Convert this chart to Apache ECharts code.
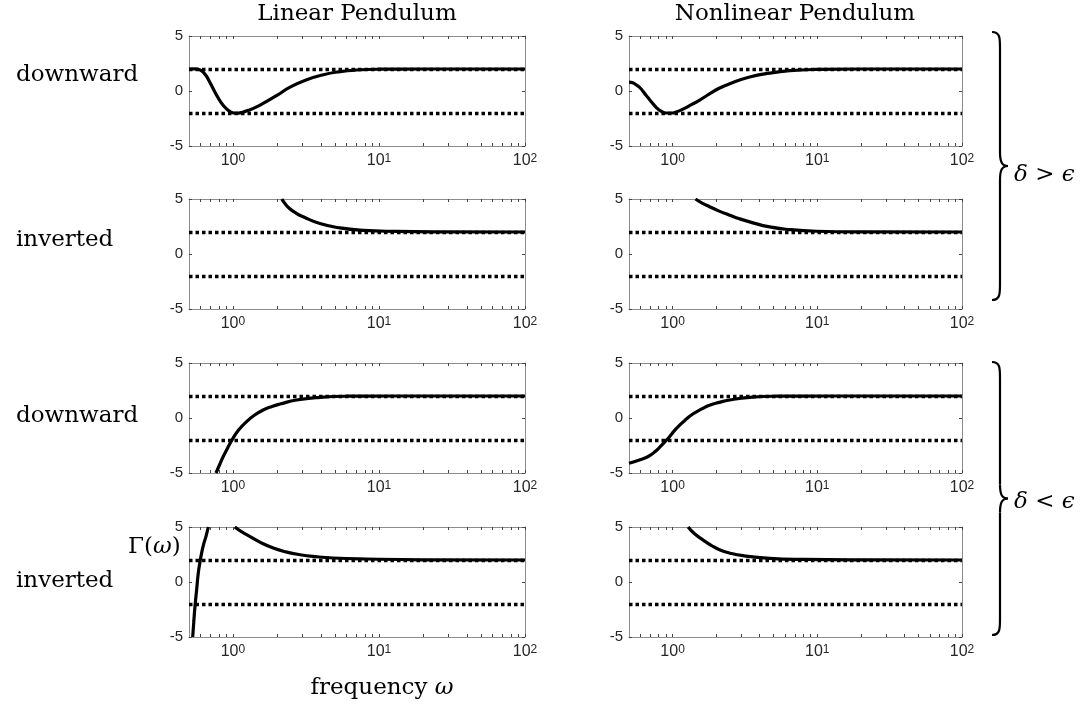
<!DOCTYPE html>
<html>
<head>
<meta charset="utf-8">
<script src="https://cdn.jsdelivr.net/npm/echarts@6/dist/echarts.min.js"></script>
<style>
  html, body { margin: 0; padding: 0; background: #fff; }
  #chart { width: 1084px; height: 708px; }
</style>
</head>
<body>
<div id="chart"></div>
<script>
// tick positions and labels
const omegaTicks = [0.6, 0.7, 0.8, 0.9, 1, 2, 3, 4, 5, 6, 7, 8, 9, 10, 20, 30, 40, 50, 60, 70, 80, 90, 100];
const decadeLabels = [1, 10, 100];
const gammaTicks = [-5, 0, 5];
const bandLevels = [2, -2];

// linear pendulum, downward
const linDownW = [0.5, 0.55, 0.6, 0.65, 0.7, 0.76, 0.83, 0.9, 0.97, 1.05, 1.15, 1.3, 1.5, 1.75, 2.0, 2.46, 3.2, 4.16, 5.4, 7.0, 10, 20, 100];
const linDownG = [2.0, 2.02, 1.9, 1.45, 0.7, -0.2, -1.05, -1.6, -1.92, -2.02, -1.95, -1.72, -1.35, -0.85, -0.4, 0.35, 1.02, 1.48, 1.76, 1.91, 1.98, 2.0, 2.0];
// nonlinear pendulum, downward
const nlDownW = [0.5, 0.53, 0.56, 0.6, 0.658, 0.71, 0.77, 0.83, 0.905, 0.98, 1.06, 1.18, 1.31, 1.55, 1.8, 2.1, 2.48, 3.41, 4.69, 6.45, 9.9, 20, 100];
const nlDownG = [0.81, 0.75, 0.57, 0.25, -0.41, -0.95, -1.48, -1.82, -2.0, -2.0, -1.9, -1.65, -1.33, -0.8, -0.26, 0.25, 0.66, 1.27, 1.63, 1.85, 1.96, 2.0, 2.0];
// linear, inverted (delta > eps)
const linInvW = [2.16, 2.25, 2.44, 2.7, 3.03, 3.94, 5.4, 7.8, 13.2, 25, 100];
const linInvG = [5.0, 4.65, 4.14, 3.72, 3.38, 2.77, 2.37, 2.15, 2.05, 2.01, 2.0];
// nonlinear, inverted (delta > eps)
const nlInvW = [1.44, 1.6, 1.8, 2.1, 2.48, 2.9, 3.41, 4.69, 6.45, 9.9, 20, 100];
const nlInvG = [5.0, 4.63, 4.3, 3.9, 3.53, 3.2, 2.92, 2.46, 2.22, 2.07, 2.01, 2.0];
// linear, downward (delta < eps)
const linDown2W = [0.765, 0.81, 0.858, 0.93, 1.0, 1.1, 1.24, 1.4, 1.61, 1.85, 2.1, 2.73, 3.94, 6.0, 12, 100];
const linDown2G = [-5.0, -4.25, -3.5, -2.6, -1.85, -1.05, -0.33, 0.25, 0.73, 1.05, 1.27, 1.64, 1.88, 1.98, 2.0, 2.0];
// nonlinear, downward (delta < eps)
const nlDown2W = [0.5, 0.59, 0.65, 0.69, 0.75, 0.813, 0.88, 0.953, 1.03, 1.12, 1.24, 1.38, 1.58, 1.8, 2.1, 2.48, 3.41, 5.2, 12, 100];
const nlDown2G = [-4.12, -3.82, -3.62, -3.45, -3.1, -2.67, -2.2, -1.7, -1.15, -0.64, -0.12, 0.36, 0.8, 1.15, 1.42, 1.64, 1.88, 1.98, 2.0, 2.0];
// linear, inverted (delta < eps): two branches
const linInv2aW = [0.53, 0.54, 0.55, 0.565, 0.579, 0.595, 0.61, 0.63, 0.653, 0.678];
const linInv2aG = [-5, -3.5, -2.18, -0.6, 0.83, 1.85, 2.63, 3.45, 4.13, 5];
const linInv2bW = [1.03, 1.15, 1.31, 1.55, 1.89, 2.3, 2.88, 3.7, 4.86, 8.2, 20, 100];
const linInv2bG = [5, 4.55, 4.13, 3.58, 3.08, 2.74, 2.48, 2.3, 2.18, 2.09, 2.02, 2.0];
// nonlinear, inverted (delta < eps)
const nlInv2W = [1.28, 1.42, 1.62, 1.85, 2.11, 2.5, 3.07, 4.69, 8.0, 20, 100];
const nlInv2G = [5, 4.38, 3.83, 3.33, 2.93, 2.62, 2.39, 2.15, 2.05, 2.01, 2.0];

const zip = (w, g) => w.map((v, i) => [v, g[i]]);

// row, col, curves
const panels = [
    { row: 0, col: 0, curves: [zip(linDownW, linDownG)] },
    { row: 0, col: 1, curves: [zip(nlDownW, nlDownG)] },
    { row: 1, col: 0, curves: [zip(linInvW, linInvG)] },
    { row: 1, col: 1, curves: [zip(nlInvW, nlInvG)] },
    { row: 2, col: 0, curves: [zip(linDown2W, linDown2G)] },
    { row: 2, col: 1, curves: [zip(nlDown2W, nlDown2G)] },
    { row: 3, col: 0, curves: [zip(linInv2aW, linInv2aG), zip(linInv2bW, linInv2bG)] },
    { row: 3, col: 1, curves: [zip(nlInv2W, nlInv2G)] }
];

const colLeft = [189, 629];
const colWidth = [336, 333];
const rowTop = [36, 199, 363, 527];
const plotH = 110;

const tickColor = '#262626';
const boxColor = '#8c8c8c';
const serif = 'DejaVu Serif';

let grid = [], xAxis = [], yAxis = [], series = [];

panels.forEach((p, i) => {
    grid.push({ left: colLeft[p.col], top: rowTop[p.row], width: colWidth[p.col], height: plotH });
    const xBase = {
        type: 'log', logBase: 10, gridIndex: i, min: 0.5, max: 100,
        axisLine: { show: true, onZero: false, lineStyle: { color: boxColor, width: 1 } },
        axisTick: { show: true, inside: true, length: 3, customValues: omegaTicks, lineStyle: { color: '#444' } },
        splitLine: { show: false }
    };
    xAxis.push(Object.assign({}, xBase, {
        position: 'bottom',
        axisLabel: {
            customValues: decadeLabels,
            margin: 7,
            formatter: v => '{b|10}{s|' + Math.round(Math.log10(v)) + '}',
            rich: {
                b: { fontSize: 16, fontFamily: 'Liberation Sans', color: tickColor, verticalAlign: 'bottom', lineHeight: 16 },
                s: { fontSize: 12, fontFamily: 'Liberation Sans', color: tickColor, verticalAlign: 'top', lineHeight: 12, padding: [0, 0, 10, 0] }
            }
        }
    }));
    xAxis.push(Object.assign({}, xBase, { position: 'top', axisLabel: { show: false } }));
    const yBase = {
        type: 'value', gridIndex: i, min: -5, max: 5, interval: 5,
        axisLine: { show: true, onZero: false, lineStyle: { color: boxColor, width: 1 } },
        axisTick: { show: true, inside: true, length: 3, lineStyle: { color: '#444' } },
        splitLine: { show: false }
    };
    yAxis.push(Object.assign({}, yBase, {
        position: 'left',
        axisLabel: { fontSize: 15, fontFamily: 'Liberation Sans', color: tickColor, margin: 6 }
    }));
    yAxis.push(Object.assign({}, yBase, { position: 'right', axisLabel: { show: false } }));

    p.curves.forEach((c, k) => {
        const s = {
            type: 'line',
            xAxisIndex: 2 * i,
            yAxisIndex: 2 * i,
            data: c,
            showSymbol: false,
            smooth: 0.5,
            clip: true,
            silent: true,
            lineStyle: { color: '#000', width: 3.2 },
            z: 3
        };
        if (k === 0) {
            s.markLine = {
                symbol: 'none',
                silent: true,
                label: { show: false },
                lineStyle: { color: '#000', width: 3.3, type: [3.5, 3], cap: 'butt' },
                data: bandLevels.map(v => ({ yAxis: v }))
            };
        }
        series.push(s);
    });
});

// curly brace made of bezier pieces and lines
function brace(top, bot) {
    const x0 = 992, xm = 1000, xt = 1008, mid = (top + bot) / 2;
    const st = { stroke: '#000', lineWidth: 2.2, fill: null };
    const bz = (x1, y1, c1x, c1y, c2x, c2y, x2, y2) => ({
        type: 'bezierCurve', silent: true, style: st,
        shape: { x1: x1, y1: y1, cpx1: c1x, cpy1: c1y, cpx2: c2x, cpy2: c2y, x2: x2, y2: y2 }
    });
    const ln = (y1, y2) => ({ type: 'line', silent: true, style: st, shape: { x1: xm, y1: y1, x2: xm, y2: y2 } });
    return [
        bz(x0, top, xm, top, xm, top + 6, xm, top + 16),
        ln(top + 16, mid - 14),
        bz(xm, mid - 14, xm, mid - 4, xm + 2, mid, xt, mid),
        bz(xt, mid, xm + 2, mid, xm, mid + 4, xm, mid + 14),
        ln(mid + 14, bot - 16),
        bz(xm, bot - 16, xm, bot - 6, xm, bot, x0, bot)
    ];
}

const fs = 23;
const txt = (text, x, y, align, rich) => ({
    type: 'text', silent: true,
    style: {
        text: text, x: x, y: y, align: align || 'left', verticalAlign: 'middle',
        fontFamily: serif, fontSize: fs, fill: '#000', rich: rich
    }
});
const ital = { i: { fontFamily: serif, fontStyle: 'italic', fontSize: fs, fill: '#000' } };

const graphic = [
    txt('Linear Pendulum', 357, 14, 'center'),
    txt('Nonlinear Pendulum', 795, 14, 'center'),
    txt('downward', 16, 75),
    txt('inverted', 16, 240),
    txt('downward', 16, 416),
    txt('inverted', 16, 581),
    txt('Γ({i|ω})', 128, 547, 'left', ital),
    txt('frequency {i|ω}', 382, 688, 'center', ital),
    txt('{i|δ} > {i|ϵ}', 1014, 175, 'left', ital),
    txt('{i|δ} < {i|ϵ}', 1014, 502, 'left', ital)
].concat(brace(32, 300), brace(362, 635));

const chart = echarts.init(document.getElementById('chart'));
chart.setOption({
    animation: false,
    backgroundColor: '#fff',
    grid: grid,
    xAxis: xAxis,
    yAxis: yAxis,
    series: series,
    graphic: graphic
});
</script>
</body>
</html>
